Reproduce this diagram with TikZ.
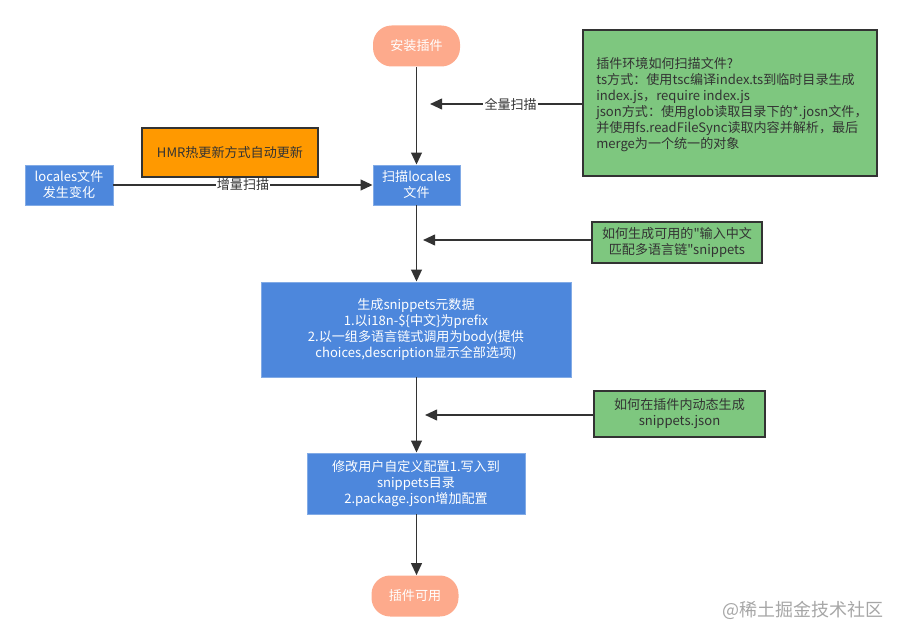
\documentclass[tikz,border=0pt]{standalone}
\usepackage{fontspec}
\newfontfamily\cjkf{Noto Sans CJK SC}
\usetikzlibrary{arrows.meta,positioning}
\definecolor{salmon}{HTML}{FDAA8C}
\definecolor{bluebox}{HTML}{4D87DC}
\definecolor{greenbox}{HTML}{7EC77F}
\definecolor{orangebox}{HTML}{FF9900}
\definecolor{linec}{HTML}{333333}
\definecolor{textd}{HTML}{333333}
\tikzset{
  pill/.style={rounded corners=14pt, fill=salmon, text=white, minimum width=87*0.75pt, minimum height=41*0.75pt, align=center, inner sep=0pt},
  bluebx/.style={fill=bluebox, draw=bluebox!70!white, line width=0.6pt, text=white, align=center, inner sep=0pt},
  greenbx/.style={fill=greenbox, draw=linec, line width=1.3pt, text=textd, inner sep=0pt},
  conn/.style={draw=linec, line width=1.4pt, -{Triangle[length=9pt,width=8pt]}},
  lbl/.style={fill=white, text=textd, inner sep=1pt}
}
\begin{document}
\begin{tikzpicture}[x=0.75pt,y=-0.75pt, font=\cjkf\fontsize{9.8}{12}\selectfont]
\useasboundingbox (0,0) rectangle (902,641);
% nodes
\node[pill] (install) at (416.5,46) {安装插件};
\node[bluebx, minimum width=87*0.75pt, minimum height=40*0.75pt] (scan) at (416.5,185) {扫描locales\\文件};
\node[bluebx, minimum width=88*0.75pt, minimum height=40*0.75pt] (locales) at (69,185) {locales文件\\发生变化};
\node[fill=orangebox, draw=linec, line width=1.3pt, text=textd, minimum width=176*0.75pt, minimum height=49*0.75pt, inner sep=0pt] (hmr) at (230,152.5) {HMR热更新方式自动更新};
\node[greenbx, minimum width=294*0.75pt, minimum height=146*0.75pt] (g1) at (730,103) {};
\node[text=textd, align=left, anchor=north west, inner sep=0pt, font=\cjkf\fontsize{9.8}{12.1}\selectfont] (g1t) at (596,57) {插件环境如何扫描文件?\\ts方式：使用tsc编译index.ts到临时目录生成\\index.js，require index.js\\json方式：使用glob读取目录下的*.josn文件，\\并使用fs.readFileSync读取内容并解析，最后\\merge为一个统一的对象};
\node[bluebx, minimum width=310*0.75pt, minimum height=95*0.75pt] (gen) at (416,329.5) {生成snippets元数据\\1.以i18n-\$\{中文\}为prefix\\2.以一组多语言链式调用为body(提供\\choices,description显示全部选项)};
\node[greenbx, minimum width=170*0.75pt, minimum height=41*0.75pt, align=center] (g2) at (677,242.5) {如何生成可用的"输入中文\\匹配多语言链"snippets};
\node[greenbx, minimum width=171*0.75pt, minimum height=46*0.75pt, align=center] (g3) at (679.5,414) {如何在插件内动态生成\\snippets.json};
\node[bluebx, minimum width=218*0.75pt, minimum height=61*0.75pt] (mod) at (416,483.5) {修改用户自定义配置1.写入到\\snippets目录\\2.package.json增加配置};
\node[pill] (avail) at (415,596) {插件可用};
\node[text=gray!70, anchor=east, inner sep=0pt, font=\cjkf\fontsize{13.5}{15}\selectfont] (wm) at (884,610) {@稀土掘金技术社区};
% coordinates on the main line
\coordinate (t1) at (430,104);
\coordinate (t2) at (423,240);
\coordinate (t3) at (425,415);
% connectors
\draw[conn] (install) -- (scan);
\draw[conn] (scan) -- (gen.north -| scan);
\draw[conn] (gen.south -| scan) -- (mod.north -| scan);
\draw[conn] (mod.south -| scan) -- (avail.north -| scan);
\draw[conn] (locales) -- node[lbl] {增量扫描} (scan);
\draw[conn] (g1.west |- t1) -- node[lbl, pos=0.47] {全量扫描} (t1);
\draw[conn] (g2.west |- t2) -- (t2);
\draw[conn] (g3.west |- t3) -- (t3);
\end{tikzpicture}
\end{document}
